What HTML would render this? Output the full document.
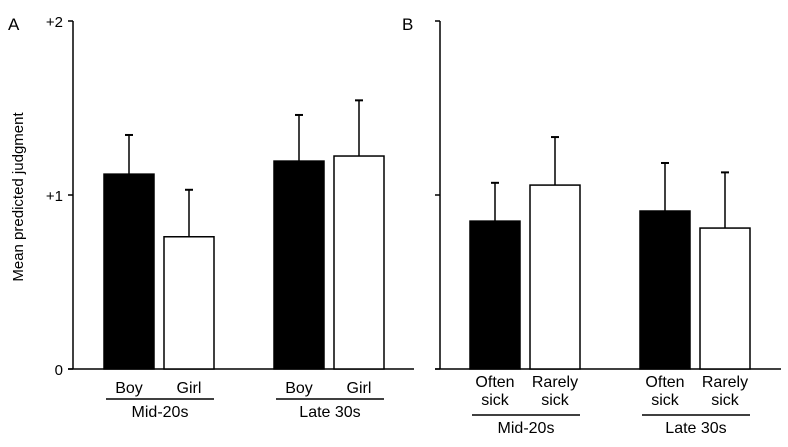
<!DOCTYPE html>
<html><head><meta charset="utf-8"><style>
body{margin:0;background:#fff}
text{font-family:"Liberation Sans",Arial,sans-serif;fill:#000}
</style></head><body>
<svg id="chart" width="788" height="442" xmlns="http://www.w3.org/2000/svg"></svg>
<script>
const panelALabels = ["Boy","Girl","Boy","Girl"];
const panelAValues = [1.12,0.76,1.195,1.224];
const panelAErrors = [0.225,0.27,0.265,0.32];
const panelBLabels = ["Often|sick","Rarely|sick","Often|sick","Rarely|sick"];
const panelBValues = [0.85,1.057,0.908,0.81];
const panelBErrors = [0.22,0.276,0.276,0.32];
const groupLabels = ["Mid-20s","Late 30s"];
const yTicks = [0,1,2];
const yTickLabels = ["0","+1","+2"];

const svg = document.getElementById('chart');
const NS = "http://www.w3.org/2000/svg";
function mk(tag, attrs, parent){const e=document.createElementNS(NS,tag);for(const k in attrs)e.setAttribute(k,attrs[k]);(parent||svg).appendChild(e);return e;}
const y0=369, unit=174;
function yScale(v){return y0-v*unit;}

function panel(name, axisX, barStarts, labels, values, errors, showTickLabels, letter){
  const g=mk('g',{});
  
  
  const t=mk('text',{x:letter==='A'?8:402,y:30,'font-size':17},g); t.textContent=letter;
  
  
  const ax=mk('line',{x1:axisX,x2:axisX,y1:yScale(2),y2:y0,stroke:'#000','stroke-width':1.5},g);
  
  
  const base=mk('line',{x1:axisX-5,x2:axisX+341,y1:y0,y2:y0,stroke:'#000','stroke-width':1.5},g);
  
  
  yTicks.forEach((tv,i)=>{
    const tk=mk('line',{x1:axisX-5,x2:axisX,y1:yScale(tv),y2:yScale(tv),stroke:'#000','stroke-width':1.5},g);
    
    
    if(showTickLabels){
      const tl=mk('text',{x:axisX-10,y:yScale(tv)+6,'font-size':15,'text-anchor':'end'},g);
      tl.textContent=yTickLabels[i];
      
      
    }
  });
  const two = labels[0].includes('|');
  values.forEach((v,i)=>{
    const x=barStarts[i], w=50, cx=x+w/2;
    const e=mk('line',{x1:cx,x2:cx,y1:yScale(v),y2:yScale(v+errors[i]),stroke:'#000','stroke-width':1.5},g);
    
    
    const c=mk('line',{x1:cx-4,x2:cx+4,y1:yScale(v+errors[i]),y2:yScale(v+errors[i]),stroke:'#000','stroke-width':2},g);
    
    
    const r=mk('rect',{x:x,y:yScale(v),width:w,height:y0-yScale(v),fill:i%2===0?'#000':'#fff',stroke:'#000','stroke-width':1.5},g);
    
    
    const parts=labels[i].split('|');
    parts.forEach((p,j)=>{
      const tx=mk('text',{x:cx,y:(two?387:393)+j*18,'font-size':16,'text-anchor':'middle'},g);
      tx.textContent=p;
      
      
    });
  });
  groupLabels.forEach((gl,k)=>{
    const xa=barStarts[k*2]+2, xb=barStarts[k*2+1]+50;
    const ly = two ? 415 : 399;
    const l=mk('line',{x1:xa,x2:xb,y1:ly,y2:ly,stroke:'#000','stroke-width':1.5},g);
    
    
    const tx=mk('text',{x:(xa+xb)/2,y:ly+18,'font-size':16,'text-anchor':'middle'},g);
    tx.textContent=gl;
    
    
  });
}
panel('panel-a',73,[104,164,274,334],panelALabels,panelAValues,panelAErrors,true,'A');
panel('panel-b',440,[470,530,640,700],panelBLabels,panelBValues,panelBErrors,false,'B');
const yt=mk('text',{x:0,y:0,'font-size':15,'text-anchor':'middle',transform:'translate(23,197) rotate(-90)'});
yt.textContent='Mean predicted judgment';


</script>
</body></html>
